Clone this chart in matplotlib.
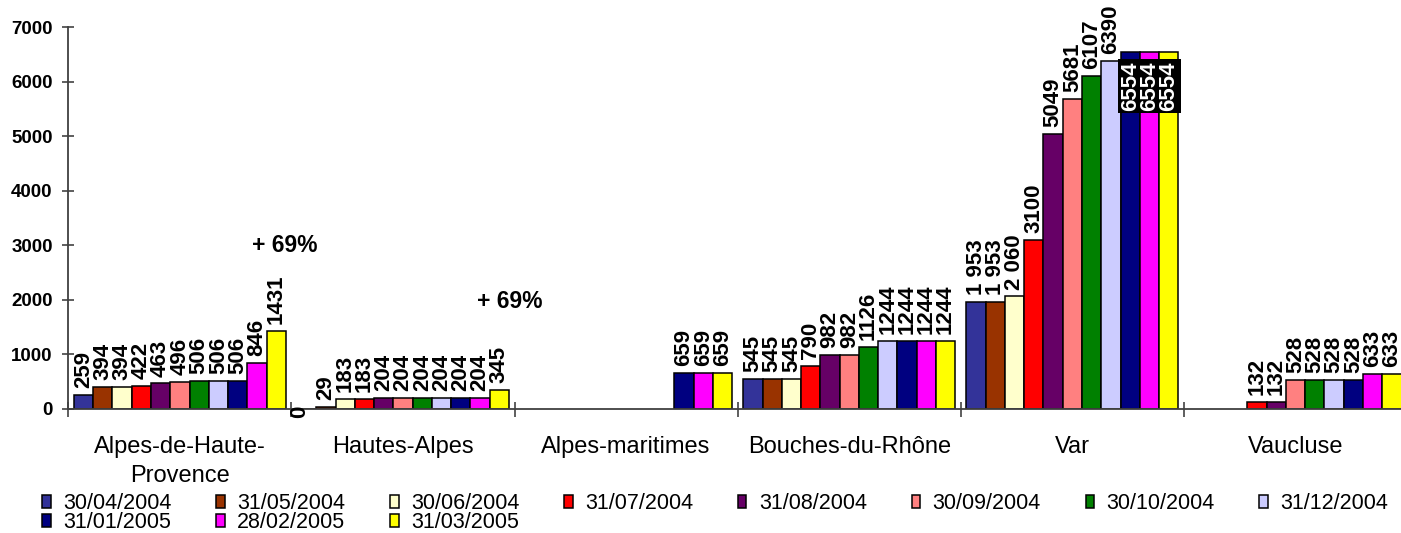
import matplotlib.pyplot as plt
import numpy as np

plt.rcParams['font.family'] = ['Liberation Sans', 'DejaVu Sans']

# 数据
departements = ["Alpes-de-Haute-\nProvence", "Hautes-Alpes", "Alpes-maritimes",
                "Bouches-du-Rhône", "Var", "Vaucluse"]
dates = ["30/04/2004", "31/05/2004", "30/06/2004", "31/07/2004", "31/08/2004", "30/09/2004",
         "30/10/2004", "31/12/2004", "31/01/2005", "28/02/2005", "31/03/2005"]
colors = ["#333399", "#993300", "#FFFFCC", "#FF0000", "#660066", "#FF8080",
          "#008000", "#CCCCFF", "#000080", "#FF00FF", "#FFFF00"]

# valeurs par département (une valeur par date, None = pas de barre)
alpes_haute_provence = [259, 394, 394, 422, 463, 496, 506, 506, 506, 846, 1431]
hautes_alpes = [0, 29, 183, 183, 204, 204, 204, 204, 204, 204, 345]
alpes_maritimes = [None, None, None, None, None, None, None, None, 659, 659, 659]
bouches_du_rhone = [545, 545, 545, 790, 982, 982, 1126, 1244, 1244, 1244, 1244]
var = [1953, 1953, 2060, 3100, 5049, 5681, 6107, 6390, 6554, 6554, 6554]
vaucluse = [None, None, None, 132, 132, 528, 528, 528, 528, 633, 633]

# étiquettes du Var (format avec espace pour les premières)
var_labels = ["1 953", "1 953", "2 060", "3100", "5049", "5681", "6107", "6390",
              "6554", "6554", "6554"]

series = [alpes_haute_provence, hautes_alpes, alpes_maritimes,
          bouches_du_rhone, var, vaucluse]

pct_text = "+ 69%"

# figure
fig = plt.figure(figsize=(14.01, 5.33), dpi=100)
ax = fig.add_axes([0.04875, 0.2332, 0.9556, 0.7156])

n = len(dates)
w = 0.95 / n
centers = np.arange(len(departements)) + 0.5

bars = []
for j in range(n):
    xs, hs = [], []
    for i, s in enumerate(series):
        if s[j] is not None:
            xs.append(centers[i] + (j - (n - 1) / 2) * w)
            hs.append(s[j])
    b = ax.bar(xs, hs, width=w, color=colors[j], edgecolor='black', linewidth=1.1,
               label=dates[j], zorder=2)
    bars.append(b)

# étiquettes de données
for i, s in enumerate(series):
    for j, v in enumerate(s):
        if v is None:
            continue
        x = centers[i] + (j - (n - 1) / 2) * w
        txt = var_labels[j] if s is var else str(v)
        if v >= 6500:
            # pas de place au-dessus : étiquette dans la barre, fond noir
            ax.annotate(txt, (x, v), xytext=(0, -7), textcoords='offset points',
                        rotation=90, ha='center', va='top', fontsize=16,
                        fontweight='bold', color='white', zorder=5,
                        bbox=dict(facecolor='black', edgecolor='none', pad=1.5))
        elif v == 0:
            ax.annotate(txt, (x, v), xytext=(-5, -2.5), textcoords='offset points',
                        rotation=90, ha='center', va='center', fontsize=16,
                        fontweight='bold', zorder=5)
        else:
            ax.annotate(txt, (x, v), xytext=(0, 5), textcoords='offset points',
                        rotation=90, ha='center', va='bottom', fontsize=16,
                        fontweight='bold', zorder=5, annotation_clip=False)

# + 69%
ax.text(0.971, 3004, pct_text, ha='center', va='center', fontsize=16.5, fontweight='bold')
ax.text(1.98, 1964, pct_text, ha='center', va='center', fontsize=16.5, fontweight='bold')

# axes
ax.set_xlim(0, len(departements))
ax.set_ylim(0, 7000)
ax.set_yticks(np.arange(0, 7001, 1000))
ax.set_xticks(np.arange(0, len(departements) + 1))
ax.set_xticklabels([])
ax.set_xticks(centers, minor=True)
ax.set_xticklabels(departements, minor=True, fontsize=17, linespacing=1.45)

for lab in ax.get_yticklabels():
    lab.set_fontweight('bold')
    lab.set_fontsize(13.5)

ax.tick_params(axis='y', direction='inout', length=8, width=1.1, color='#333333', pad=7.2)
ax.tick_params(axis='x', which='major', direction='inout', length=10.8, width=1.1,
               color='#333333')
ax.tick_params(axis='x', which='minor', length=0, pad=19.5)

for side in ['top', 'right']:
    ax.spines[side].set_visible(False)
for side in ['left', 'bottom']:
    ax.spines[side].set_color('#404040')
    ax.spines[side].set_linewidth(1.3)

# légende (ordre ligne par ligne comme Excel)
order = [0, 8, 1, 9, 2, 10, 3, 4, 5, 6, 7]
fig.legend([bars[k] for k in order], [dates[k] for k in order], ncol=8,
           loc='upper left', bbox_to_anchor=(0.0302, 0.0745), frameon=False,
           fontsize=15.5, handlelength=0.39, handleheight=0.52, handletextpad=0.58,
           columnspacing=2.08, labelspacing=-0.1, borderpad=0, borderaxespad=0)

plt.savefig("out.png", dpi=100)
